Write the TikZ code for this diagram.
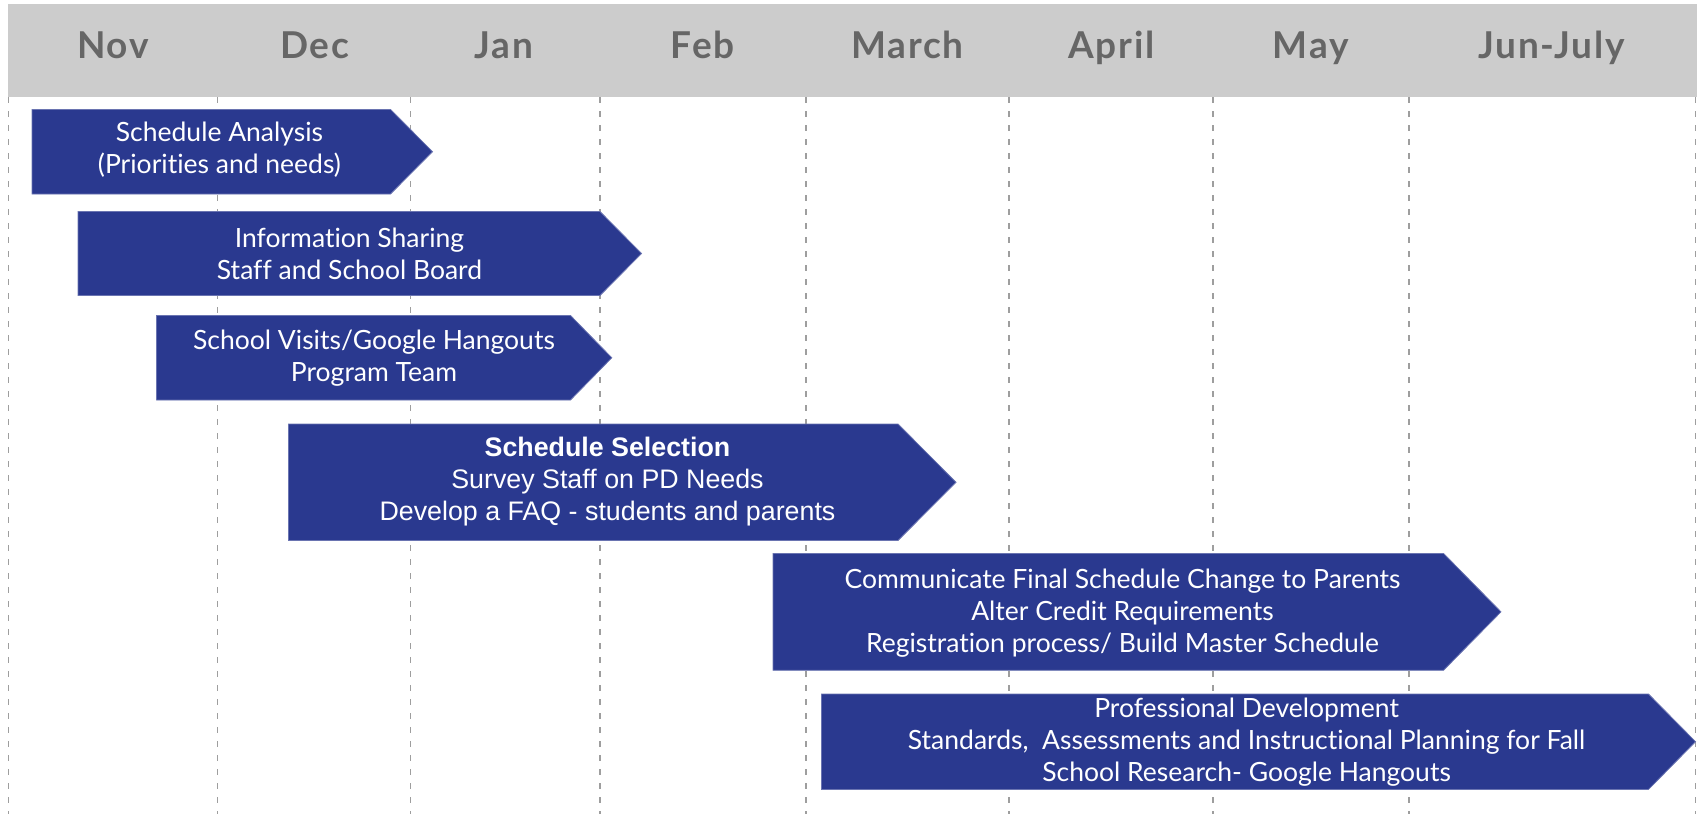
\documentclass[tikz,border=0pt]{standalone}
\usepackage{fontspec}
\setmainfont{Lato}[Ligatures=NoCommon]
\newfontfamily\monthfont{Lato}[Ligatures=NoCommon,LetterSpace=5]
\newfontfamily\arialf{Liberation Sans}
\definecolor{boxblue}{RGB}{42,57,143}
\definecolor{hdrgray}{RGB}{204,204,204}
\definecolor{hdrtext}{RGB}{102,102,102}
\definecolor{dashgray}{RGB}{158,158,158}
\tikzset{
  month/.style={font=\monthfont\fontsize{18.5}{20}\selectfont\bfseries, text=hdrtext, anchor=base, inner sep=0pt},
  bartext/.style={font=\fontsize{13.25}{16}\selectfont, text=white, align=center, inner sep=0pt},
  selbartext/.style={font=\arialf\fontsize{13.4}{16}\selectfont, text=white, align=center, inner sep=0pt},
  bar/.style={fill=boxblue, draw=boxblue!70!white, line width=0.4pt},
  gridline/.style={draw=dashgray, dash pattern=on 3pt off 4pt, line width=0.9pt},
}
\newcommand{\chevbar}[5]{%
  \path[bar] (#1,#4) -- (#2,#4) -- ({#3},{(#4+#5)/2}) -- (#2,#5) -- (#1,#5) -- cycle;}
\begin{document}
\begin{tikzpicture}[x=0.5pt,y=-0.5pt]
\useasboundingbox (0,0) rectangle (1698,814);
% header
\fill[hdrgray] (7.6,4) rectangle (1697,96.5);
% grid lines
\foreach \gx in {8.5,217.5,410.5,600,805.6,1009.3,1212.7,1409,1695.5}
  \draw[gridline] (\gx,97) -- (\gx,814);
% months
\node[month] (mNov) at (113,58.3) {Nov};
\node[month] (mDec) at (314.6,58.3) {Dec};
\node[month] (mJan) at (504,58.3) {Jan};
\node[month] (mFeb) at (702.8,58.3) {Feb};
\node[month] (mMar) at (907.5,58.3) {March};
\node[month] (mApr) at (1111.6,58.3) {April};
\node[month] (mMay) at (1310.8,58.3) {May};
\node[month] (mJun) at (1551.5,58.3) {Jun-July};
% bars
\chevbar{32}{390.5}{432.5}{109.4}{194}
\chevbar{78}{600}{641.5}{211.5}{295.5}
\chevbar{156.5}{570.5}{611.8}{315.5}{400}
\chevbar{288.5}{898}{956}{424}{540.5}
\chevbar{773}{1443.5}{1501}{553.4}{670.3}
\chevbar{821.5}{1648.5}{1695.5}{694}{789.4}
% texts
\node[bartext] (t1) at (219.5,150) {Schedule Analysis\\(Priorities and needs)};
\node[bartext] (t2) at (349.5,253.5) {Information Sharing\\Staff and School Board};
\node[bartext] (t3) at (374,358.5) {School Visits/Google Hangouts\\Program Team};
\node[selbartext] (t4) at (607.5,482) {\textbf{Schedule Selection}\\Survey Staff on PD Needs\\Develop a FAQ - students and parents};
\node[bartext] (t5) at (1122.5,613) {Communicate Final Schedule Change to Parents\\Alter Credit Requirements\\Registration process/ Build Master Schedule};
\node[bartext] (t6) at (1246.6,742) {Professional Development\\Standards,~ Assessments and Instructional Planning for Fall\\School Research- Google Hangouts};
\end{tikzpicture}
\end{document}
